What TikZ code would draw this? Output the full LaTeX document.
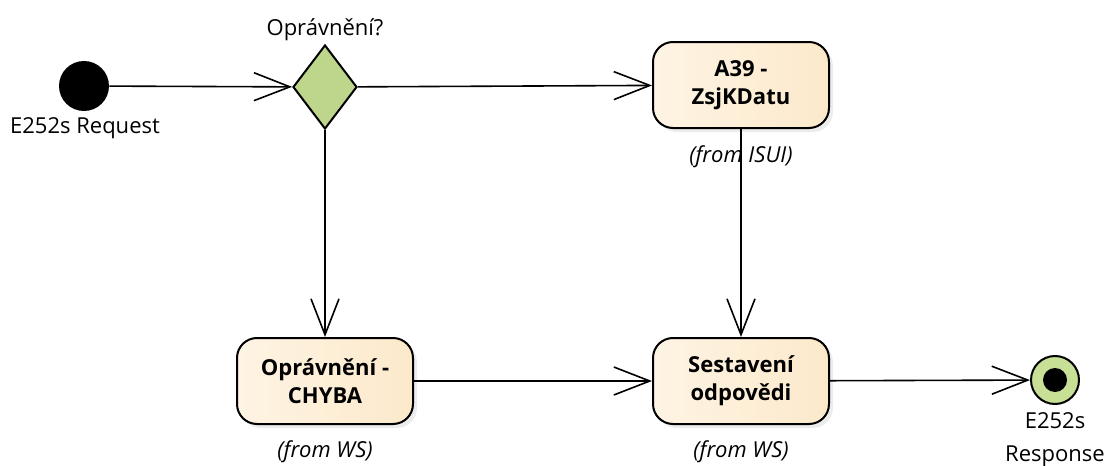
\documentclass[tikz,border=0pt]{standalone}
\usepackage{fontspec}
\setmainfont{Open Sans}
\usetikzlibrary{arrows.meta,shapes.geometric,shadows}

\definecolor{actfill}{RGB}{252,233,203}
\definecolor{actlight}{RGB}{254,244,228}
\definecolor{decfill}{RGB}{190,214,140}
\definecolor{endfill}{RGB}{200,224,150}

\begin{document}
\begin{tikzpicture}[x=0.5pt,y=-0.5pt,
  font=\fontsize{11}{14}\selectfont,
  action/.style={draw, line width=1pt, rounded corners=10pt, left color=actlight, right color=actfill,
    minimum width=88pt, minimum height=43pt, align=center, font=\fontsize{11}{14}\selectfont\bfseries,
    drop shadow={opacity=0.15, shadow xshift=2pt, shadow yshift=-2pt}},
  owner/.style={font=\fontsize{11}{14}\selectfont\itshape},
  flow/.style={line width=0.8pt, -{Straight Barb[length=18pt, width=14pt, line width=0.8pt]}}]

\useasboundingbox (0,0) rectangle (1110,466);

% initial / final
\node[circle, fill=black, minimum size=25pt, inner sep=0pt] (request) at (84,86) {};
\node (requestlbl) at (85,128) {E252s Request};
\node[circle, draw, line width=1pt, fill=endfill, minimum size=24pt, inner sep=0pt] (response) at (1055,380) {};
\node[circle, fill=black, minimum size=12pt, inner sep=0pt] (responsedot) at (response) {};
\node (responselbl1) at (1055,421) {E252s};
\node (responselbl2) at (1055,456) {Response};

% decision
\node[diamond, draw, line width=1pt, fill=decfill, minimum width=32pt, minimum height=42pt, inner sep=0pt] (opr) at (325,87) {};
\node (oprlbl) at (325,30) {Oprávnění?};

% actions
\node[action] (a39) at (741,85) {A39 -\\ZsjKDatu};
\node[owner] (a39from) at (741,157) {(from ISUI)};
\node[action] (chyba) at (325,381) {Oprávnění -\\CHYBA};
\node[owner] (chybafrom) at (325,452) {(from WS)};
\node[action] (sest) at (741,381) {Sestavení\\odpovědi};
\node[owner] (sestfrom) at (741,452) {(from WS)};

\draw[flow] (request) -- (opr);
\draw[flow] (opr) -- (a39);
\draw[flow] (opr) -- (chyba);
\draw[flow] (chyba) -- (sest);
\draw[flow] (a39) -- (sest);
\draw[flow] (sest) -- (response);
\end{tikzpicture}
\end{document}
